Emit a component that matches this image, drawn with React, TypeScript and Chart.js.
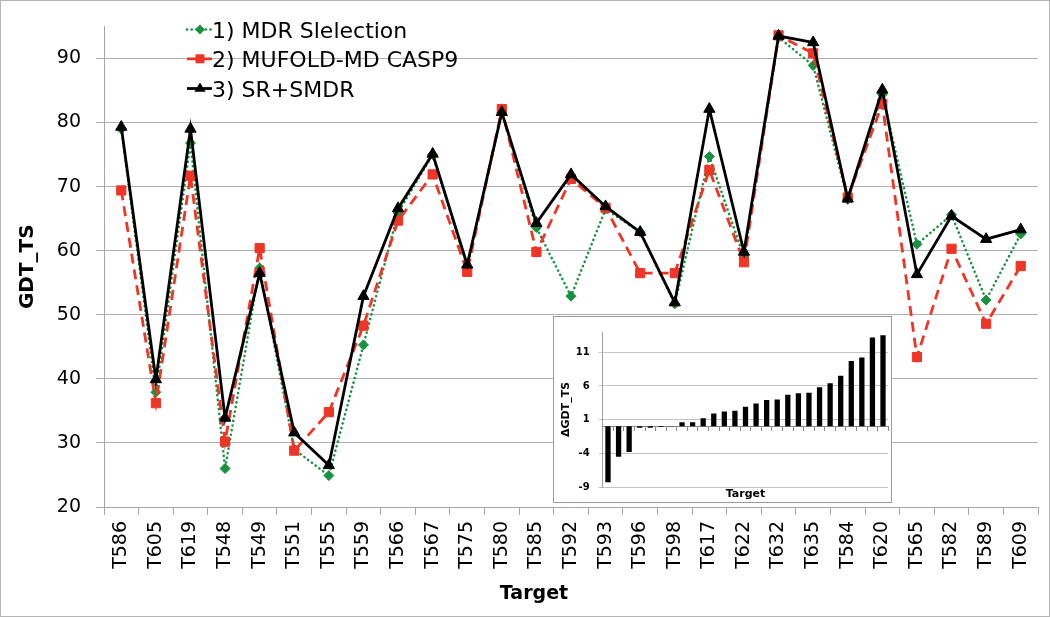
import React, { useEffect, useRef } from 'react';
import { Chart, registerables } from 'chart.js';

Chart.register(...registerables);
Chart.defaults.font.family = 'DejaVu Sans';

const targets = ['T586', 'T605', 'T619', 'T548', 'T549', 'T551', 'T555', 'T559', 'T566', 'T567', 'T575', 'T580', 'T585', 'T592', 'T593', 'T596', 'T598', 'T617', 'T622', 'T632', 'T635', 'T584', 'T620', 'T565', 'T582', 'T589', 'T609'];
const mdrSelection = [79.0, 37.9, 76.8, 26.0, 57.3, 29.0, 24.9, 45.3, 65.9, 75.0, 57.5, 81.5, 63.6, 52.9, 66.5, 62.9, 51.7, 74.7, 59.0, 93.3, 88.9, 68.0, 84.4, 61.0, 65.6, 52.3, 62.6];
const mufoldCasp9 = [69.4, 36.2, 71.7, 30.2, 60.4, 28.8, 34.8, 48.3, 64.7, 71.9, 56.7, 82.1, 59.8, 71.2, 66.7, 56.5, 56.5, 72.6, 58.2, 93.6, 90.8, 68.3, 82.9, 43.4, 60.3, 48.6, 57.6];
const srSmdr = [79.3, 39.9, 79.0, 33.9, 56.5, 31.6, 26.5, 52.9, 66.6, 75.1, 57.8, 81.6, 64.3, 71.9, 66.9, 62.9, 51.9, 82.1, 59.8, 93.5, 92.5, 68.1, 85.1, 56.3, 65.4, 61.8, 63.3];
const seriesNames = ['1) MDR Slelection', '2) MUFOLD-MD CASP9', '3) SR+SMDR'];
const yTicks = [20, 30, 40, 50, 60, 70, 80, 90];

const deltaGdt = [-8.3, -4.5, -3.8, -0.2, -0.2, -0.1, 0.05, 0.6, 0.6, 1.2, 1.9, 2.2, 2.3, 2.9, 3.4, 3.9, 4.0, 4.7, 4.9, 5.0, 5.8, 6.4, 7.5, 9.7, 10.2, 13.2, 13.5];
const deltaTicks = [-9, -4, 1, 6, 11];

const GREEN = '#17923e';
const RED = '#ee3526';
const BLACK = '#000000';

function drawMarker(ctx: CanvasRenderingContext2D, style: string, x: number, y: number, color: string) {
  ctx.save();
  ctx.fillStyle = color;
  ctx.beginPath();
  if (style === 'rectRot') {
    const r = 5;
    ctx.moveTo(x, y - r);
    ctx.lineTo(x + r, y);
    ctx.lineTo(x, y + r);
    ctx.lineTo(x - r, y);
  } else if (style === 'rect') {
    const s = 4.5;
    ctx.rect(x - s, y - s, 2 * s, 2 * s);
  } else {
    const r = 6;
    ctx.moveTo(x, y - r);
    ctx.lineTo(x + r * 0.95, y + r * 0.55);
    ctx.lineTo(x - r * 0.95, y + r * 0.55);
  }
  ctx.closePath();
  ctx.fill();
  ctx.restore();
}

const legendPlugin = {
  id: 'inlineLegend',
  afterDraw(chart: any) {
    const ctx: CanvasRenderingContext2D = chart.ctx;
    const baselines = [37.5, 66.8, 96.5];
    const x0 = 187;
    const x1 = 212;
    const mx = 200;
    chart.data.datasets.forEach((ds: any, i: number) => {
      const yb = baselines[i];
      const yc = yb - 8;
      ctx.save();
      ctx.strokeStyle = ds.borderColor;
      ctx.lineWidth = ds.borderWidth;
      ctx.lineCap = ds.borderCapStyle || 'butt';
      ctx.setLineDash(ds.borderDash || []);
      ctx.beginPath();
      ctx.moveTo(x0, yc);
      ctx.lineTo(x1, yc);
      ctx.stroke();
      ctx.restore();
      drawMarker(ctx, ds.pointStyle, mx, yc, ds.pointBackgroundColor);
      ctx.save();
      ctx.fillStyle = '#000';
      ctx.font = '22px "DejaVu Sans"';
      ctx.textBaseline = 'alphabetic';
      ctx.textAlign = 'left';
      ctx.fillText(ds.label, 212, yb);
      ctx.restore();
    });
  },
};

export default function App() {
  const mainRef = useRef<HTMLCanvasElement>(null);
  const insetRef = useRef<HTMLCanvasElement>(null);

  useEffect(() => {
    const main = new Chart(mainRef.current as HTMLCanvasElement, {
      type: 'line',
      data: {
        labels: targets,
        datasets: [
          {
            label: seriesNames[0],
            data: mdrSelection,
            borderColor: GREEN,
            backgroundColor: GREEN,
            borderWidth: 2.6,
            borderDash: [0.1, 4.6],
            borderCapStyle: 'round',
            pointStyle: 'rectRot',
            pointRadius: 5,
            pointBackgroundColor: GREEN,
            pointBorderColor: GREEN,
            pointBorderWidth: 1,
            tension: 0,
            order: 3,
          },
          {
            label: seriesNames[1],
            data: mufoldCasp9,
            borderColor: RED,
            backgroundColor: RED,
            borderWidth: 2.8,
            borderDash: [10, 6],
            borderCapStyle: 'butt',
            pointStyle: 'rect',
            pointRadius: 6.5,
            pointBackgroundColor: RED,
            pointBorderColor: RED,
            pointBorderWidth: 1,
            tension: 0,
            order: 2,
          },
          {
            label: seriesNames[2],
            data: srSmdr,
            borderColor: BLACK,
            backgroundColor: BLACK,
            borderWidth: 2.8,
            borderCapStyle: 'butt',
            pointStyle: 'triangle',
            pointRadius: 6.5,
            pointBackgroundColor: BLACK,
            pointBorderColor: BLACK,
            pointBorderWidth: 1,
            tension: 0,
            order: 1,
          },
        ],
      } as any,
      options: {
        responsive: false,
        maintainAspectRatio: false,
        animation: false,
        layout: { padding: { top: 15, right: 12, left: 0, bottom: 0 } },
        plugins: { legend: { display: false }, tooltip: { enabled: false } },
        scales: {
          x: {
            offset: true,
            grid: { display: true, drawOnChartArea: false, drawTicks: true, tickLength: 8, offset: true, color: '#a6a6a6' },
            border: { color: '#a6a6a6' },
            ticks: { autoSkip: false, minRotation: 90, maxRotation: 90, padding: 6, color: '#000', font: { family: 'DejaVu Sans', size: 19 } },
            afterFit: (s: any) => { s.height = 110; },
          },
          y: {
            min: 20,
            max: 95,
            afterBuildTicks: (s: any) => { s.ticks = yTicks.map((v) => ({ value: v })); },
            grid: { color: '#b0b0b0', tickLength: 8 },
            border: { color: '#a6a6a6' },
            ticks: { padding: 15, color: '#000', font: { family: 'DejaVu Sans', size: 19 } },
            title: { display: true, text: 'GDT_TS', color: '#000', font: { family: 'DejaVu Sans', size: 20, weight: 'bold' }, padding: { top: 16, bottom: 0 } },
            afterFit: (s: any) => { s.width = 104; },
          },
        },
      } as any,
      plugins: [legendPlugin],
    });

    const inset = new Chart(insetRef.current as HTMLCanvasElement, {
      type: 'bar',
      data: {
        labels: deltaGdt.map((_, i) => String(i + 1)),
        datasets: [
          {
            label: 'ΔGDT_TS',
            data: deltaGdt,
            backgroundColor: '#000',
            borderWidth: 0,
            barPercentage: 0.5,
            categoryPercentage: 1,
          },
        ],
      },
      options: {
        responsive: false,
        maintainAspectRatio: false,
        animation: false,
        layout: { padding: { top: 9.7, right: 2.7, left: 0, bottom: 0 } },
        plugins: { legend: { display: false }, tooltip: { enabled: false } },
        scales: {
          x: {
            offset: true,
            grid: { display: false },
            border: { display: false },
            ticks: { display: false },
            title: { display: true, text: 'Target', color: '#000', font: { family: 'DejaVu Sans', size: 11, weight: 'bold' }, padding: 0 },
            afterFit: (s: any) => { s.height = 13.7; },
          },
          x0: {
            type: 'category',
            axis: 'x',
            position: { y: 0 },
            offset: true,
            grid: { drawOnChartArea: false, tickLength: 4, offset: true, color: '#8a8a8a' },
            border: { color: '#8a8a8a' },
            ticks: { display: false },
          },
          y: {
            min: -9,
            max: 14,
            afterBuildTicks: (s: any) => { s.ticks = deltaTicks.map((v) => ({ value: v })); },
            grid: { color: '#c4c4c4', tickLength: 4 },
            border: { color: '#a0a0a0' },
            ticks: { padding: 9, color: '#000', font: { family: 'DejaVu Sans', size: 10, weight: 'bold' } },
            title: { display: true, text: 'ΔGDT_TS', color: '#000', font: { family: 'DejaVu Sans', size: 11, weight: 'bold' }, padding: { top: 5.4, bottom: 0 } },
            afterFit: (s: any) => { s.width = 48.7; },
          },
        },
      } as any,
    });

    return () => {
      main.destroy();
      inset.destroy();
    };
  }, []);

  return (
    <div style={{ position: 'absolute', left: 0, top: 0, width: 1050, height: 617, background: '#fff', overflow: 'hidden' }}>
      <canvas ref={mainRef} width={1050} height={617} style={{ position: 'absolute', left: 0, top: 0, width: 1050, height: 617 }} />
      <div
        style={{
          position: 'absolute',
          left: 434,
          top: 580,
          width: 200,
          textAlign: 'center',
          lineHeight: '24px',
          fontFamily: '"DejaVu Sans"',
          fontWeight: 'bold',
          fontSize: 19,
          color: '#000',
        }}
      >
        Target
      </div>
      <div
        style={{
          position: 'absolute',
          left: 553,
          top: 316,
          width: 339,
          height: 187,
          boxSizing: 'border-box',
          border: '1px solid #9a9a9a',
          background: '#fff',
        }}
      >
        <canvas ref={insetRef} width={337} height={185} style={{ display: 'block', width: 337, height: 185 }} />
      </div>
      <div
        style={{
          position: 'absolute',
          left: 0,
          top: 0,
          width: 1050,
          height: 617,
          boxSizing: 'border-box',
          border: '1px solid #b5b5b5',
          pointerEvents: 'none',
        }}
      />
    </div>
  );
}
